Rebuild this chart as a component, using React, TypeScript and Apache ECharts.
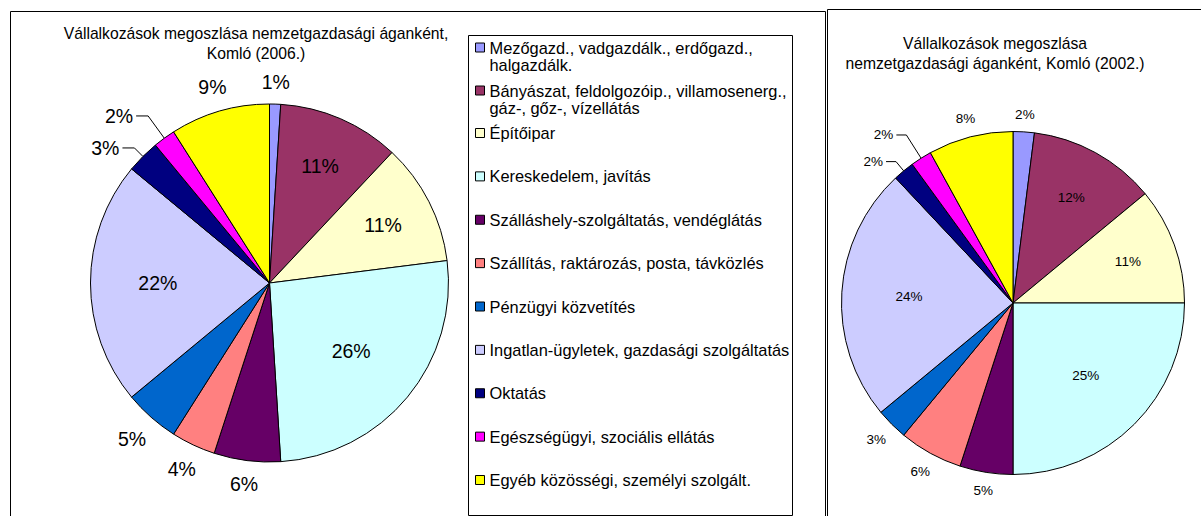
import React, { useEffect, useRef } from 'react';
import * as echarts from 'echarts';

// ---------- data ----------
const categories = [
  'Mezőgazd., vadgazdálk., erdőgazd., halgazdálk.',
  'Bányászat, feldolgozóip., villamosenerg., gáz-, gőz-, vízellátás',
  'Építőipar',
  'Kereskedelem, javítás',
  'Szálláshely-szolgáltatás, vendéglátás',
  'Szállítás, raktározás, posta, távközlés',
  'Pénzügyi közvetítés',
  'Ingatlan-ügyletek, gazdasági szolgáltatás',
  'Oktatás',
  'Egészségügyi, szociális ellátás',
  'Egyéb közösségi, személyi szolgált.',
];
const share2006 = [1, 11, 11, 26, 6, 4, 5, 22, 3, 2, 9];
const share2002 = [2, 12, 11, 25, 5, 6, 3, 24, 2, 2, 8];
const title2006 = 'Vállalkozások megoszlása nemzetgazdasági áganként,\nKomló (2006.)';
const title2002 = 'Vállalkozások megoszlása\nnemzetgazdasági áganként, Komló (2002.)';

// ---------- styles ----------
const colors = [
  '#9999FF', '#993366', '#FFFFCC', '#CCFFFF', '#660066', '#FF8080',
  '#0066CC', '#CCCCFF', '#000080', '#FF00FF', '#FFFF00',
];
const FONT = '"Liberation Sans", Arial, sans-serif';
const LEGEND_FONT_SIZE = 16.4;
// categories whose labels use a leader line, with the radial leader length
const leaderLength: Record<string, number> = {
  'Oktatás': 12,
  'Egészségügyi, szociális ellátás': 27.5,
};

const pies = [
  { values: share2006, cx: 269.5, cy: 283, r: 179, fontSize: 19.5, gap: 12, len2: 12 },
  { values: share2002, cx: 1013, cy: 303, r: 171.5, fontSize: 13.5, gap: 10, len2: 10 },
];

function wrapText(name: string, maxW: number): string {
  const ctx = document.createElement('canvas').getContext('2d');
  if (!ctx) return name;
  ctx.font = LEGEND_FONT_SIZE + 'px "Liberation Sans", Arial, sans-serif';
  const words = name.split(' ');
  const lines: string[] = [];
  let cur = '';
  for (const w of words) {
    const t = cur ? cur + ' ' + w : w;
    if (cur && ctx.measureText(t).width > maxW) {
      lines.push(cur);
      cur = w;
    } else cur = t;
  }
  if (cur) lines.push(cur);
  return lines.join('\n');
}

function buildSeries(pie: (typeof pies)[number]) {
  const total = pie.values.reduce((a, b) => a + b, 0);
  const labelLayout = (params: any) => {
    const i = params.dataIndex;
    if (leaderLength[categories[i]] != null) return {};
    let before = 0;
    for (let k = 0; k < i; k++) before += pie.values[k];
    const theta = ((before + pie.values[i] / 2) / total) * Math.PI * 2;
    const s = Math.sin(theta);
    const c = Math.cos(theta);
    const pct = (pie.values[i] / total) * 100;
    const w = params.labelRect.width;
    const h = params.labelRect.height;
    const d = pct >= 10
      ? pie.r * (0.8 - 0.008 * pct)
      : pie.r + pie.gap + (Math.abs(s) * w) / 2 + (Math.abs(c) * h) / 2;
    return { x: pie.cx + d * s, y: pie.cy - d * c, align: 'center', verticalAlign: 'middle' };
  };
  return {
    type: 'pie',
    center: [pie.cx, pie.cy],
    radius: pie.r,
    startAngle: 90,
    clockwise: true,
    avoidLabelOverlap: false,
    silent: true,
    emphasis: { disabled: true },
    itemStyle: { borderColor: '#000', borderWidth: 1 },
    label: {
      show: true,
      position: 'outside',
      formatter: '{c}%',
      fontSize: pie.fontSize,
      fontFamily: FONT,
      color: '#000',
      distanceToLabelLine: 3,
    },
    labelLine: { show: false },
    labelLayout,
    data: categories.map((name, i) => {
      const lead = leaderLength[name];
      return {
        name,
        value: pie.values[i],
        itemStyle: { color: colors[i] },
        labelLine: lead != null
          ? { show: true, length: lead, length2: pie.len2, lineStyle: { color: '#000', width: 1 } }
          : { show: false },
      };
    }),
  };
}

export default function App() {
  const ref = useRef<HTMLDivElement>(null);
  useEffect(() => {
    if (!ref.current) return;
    const chart = echarts.init(ref.current, undefined, { renderer: 'svg' });
    const wrapped = categories.map((n) => wrapText(n, 310));
    const multi = categories.filter((_, i) => wrapped[i].includes('\n'));
    const single = categories.filter((_, i) => !wrapped[i].includes('\n'));
    const titleStyle = { fontSize: 15.7, fontWeight: 'normal', color: '#000', fontFamily: FONT, lineHeight: 20 };
    const legendCommon = {
      orient: 'vertical',
      left: 475,
      padding: 0,
      itemWidth: 9,
      itemHeight: 9,
      icon: 'rect',
      selectedMode: false,
      itemStyle: { borderColor: '#000', borderWidth: 1 },
    };
    chart.setOption({
      animation: false,
      backgroundColor: '#fff',
      title: [
        { text: title2006, left: 256, top: 23, textAlign: 'center', padding: 0, textStyle: titleStyle },
        { text: title2002, left: 995, top: 33, textAlign: 'center', padding: 0, textStyle: titleStyle },
      ],
      legend: [
        {
          ...legendCommon,
          top: 39.5,
          itemGap: 10,
          data: multi,
          formatter: (name: string) => '{a|' + wrapped[categories.indexOf(name)] + '}',
          textStyle: {
            padding: [17, 0, 0, 0],
            rich: { a: { fontSize: LEGEND_FONT_SIZE, lineHeight: 17, fontFamily: FONT, color: '#000' } },
          },
        },
        {
          ...legendCommon,
          top: 124.5,
          itemGap: 26.375,
          data: single,
          textStyle: { fontSize: LEGEND_FONT_SIZE, lineHeight: 17, fontFamily: FONT, color: '#000' },
        },
      ],
      graphic: [
        { type: 'rect', shape: { x: 10.5, y: 11.5, width: 815, height: 530 }, style: { fill: 'none', stroke: '#000', lineWidth: 1 }, silent: true },
        { type: 'rect', shape: { x: 827.5, y: 9.5, width: 420, height: 530 }, style: { fill: 'none', stroke: '#000', lineWidth: 1 }, silent: true },
        { type: 'rect', shape: { x: 468.5, y: 35.5, width: 324, height: 480 }, style: { fill: 'none', stroke: '#000', lineWidth: 1 }, silent: true },
      ],
      series: pies.map(buildSeries),
    });
    return () => chart.dispose();
  }, []);
  return (
    <div
      ref={ref}
      style={{ position: 'fixed', left: 0, top: 0, width: 1201, height: 516, background: '#fff' }}
    />
  );
}
